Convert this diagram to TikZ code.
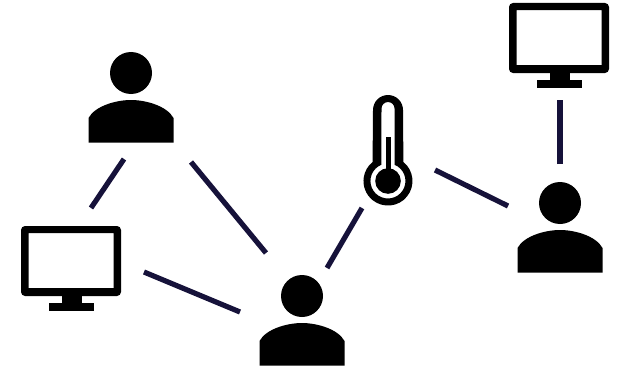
\documentclass[tikz,border=0pt]{standalone}
\definecolor{linkcol}{HTML}{16123A}
\def\U{0.03cm}
\tikzset{
  link/.style={draw=linkcol,line width=5.2*\U},
  person/.pic={
    \fill (0,0) circle (21);
    \fill (-42.5,69.5)--(-42.5,45)
      .. controls (-36,33) and (-15,27) .. (0,27)
      .. controls (15,27) and (36,33) .. (42.5,45)
      --(42.5,69.5)--cycle;
  },
  monitor/.pic={
    \fill[even odd rule]
      [rounded corners=4*\U] (0,0) rectangle (100,70)
      [sharp corners] (7.7,7.2) rectangle (92.5,62);
    \fill (40.5,70) rectangle (60.5,78);
    \fill (27.5,77) rectangle (72.5,84.5);
  },
  thermo/.pic={
    % Корпус
    \fill[even odd rule]
      (-15,-71) arc[start angle=180,end angle=360,radius=15]
      --(15.4,-19) arc[start angle=-51,end angle=231,radius=24.5]
      --cycle
      (-6.5,-72.5) arc[start angle=180,end angle=360,radius=6.5]
      --(6.5,-16.25) arc[start angle=-68,end angle=248,radius=17.5]
      --cycle;
    % Столбик
    \fill (-2.5,-44) rectangle (2.5,0);
    \fill (0,0) circle (12.8);
  }
}
\begin{document}
\begin{tikzpicture}[
  x=\U,
  y=-\U,
  line cap=butt,
  line join=round
]
  \useasboundingbox (0,0) rectangle (624,367);

  % Значки
  \pic at (131,73) {person};
  \pic at (302,296) {person};
  \pic at (560,203) {person};
  \pic at (21,226) {monitor};
  \pic at (509,3) {monitor};
  \pic at (388,181) {thermo};

  % Концы связей
  \coordinate (usera1) at (124,159);
  \coordinate (usera2) at (191,162);
  \coordinate (screena1) at (91,208);
  \coordinate (screena2) at (144,272);
  \coordinate (userb1) at (266,253);
  \coordinate (userb2) at (240,312);
  \coordinate (userb3) at (327,268);
  \coordinate (temp1) at (362,208);
  \coordinate (temp2) at (435,170);
  \coordinate (userc1) at (508,206);
  \coordinate (userc2) at (560,164);
  \coordinate (screenb) at (560,100);

  % Связи
  \draw[link] (usera1)--(screena1);
  \draw[link] (usera2)--(userb1);
  \draw[link] (screena2)--(userb2);
  \draw[link] (userb3)--(temp1);
  \draw[link] (temp2)--(userc1);
  \draw[link] (userc2)--(screenb);
\end{tikzpicture}
\end{document}
